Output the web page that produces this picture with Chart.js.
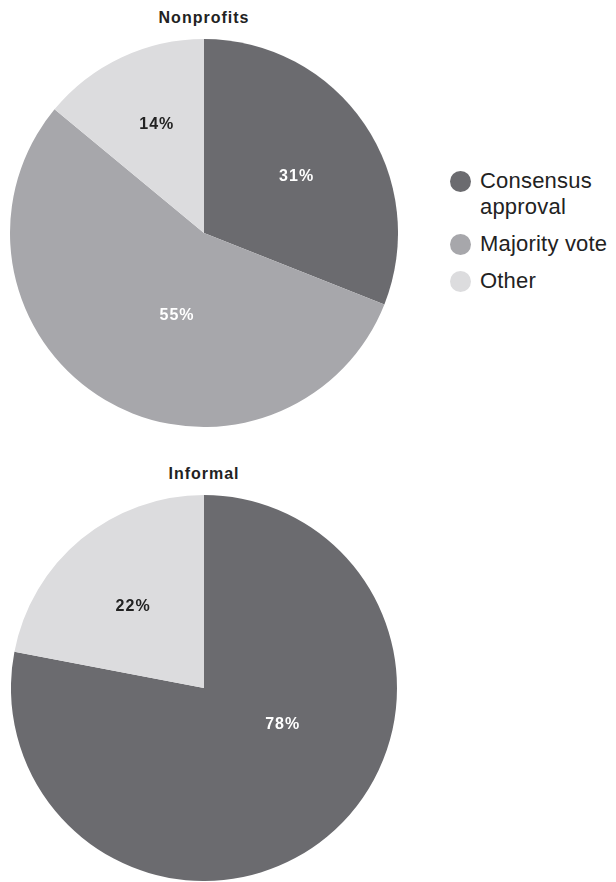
<!DOCTYPE html>
<html>
<head>
<meta charset="utf-8">
<script src="https://cdn.jsdelivr.net/npm/chart.js@4/dist/chart.umd.min.js"></script>
<style>
  body { margin: 0; background: #fff; font-family: "Liberation Sans", Arial, sans-serif; }
  #wrap { position: relative; width: 616px; height: 882px; }
  .title { position: absolute; width: 408px; text-align: center; font-weight: bold; font-size: 16px; letter-spacing: 1px; color: #222; }
  .pie { position: absolute; }
  #legend { position: absolute; left: 450px; top: 168px; font-size: 22px; letter-spacing: 0.2px; color: #222; line-height: 26px; }
  .item { position: relative; padding-left: 30px; margin-bottom: 11px; }
  .dot { position: absolute; left: 0px; top: 3px; width: 21px; height: 21px; border-radius: 50%; }
</style>
</head>
<body>
<div id="wrap">
  <div class="title" style="left:0; top:9px;">Nonprofits</div>
  <div class="pie" style="left:10px; top:39px; width:388px; height:388px;"><canvas id="chart1"></canvas></div>
  <div class="title" style="left:0; top:465px;">Informal</div>
  <div class="pie" style="left:11px; top:495px; width:386px; height:386px;"><canvas id="chart2"></canvas></div>
  <div id="legend"></div>
</div>
<script>
let categories = ['Consensus approval', 'Majority vote', 'Other'];
let legendLines = [['Consensus', 'approval'], ['Majority vote'], ['Other']];
let nonprofitsValues = [31, 55, 14];
let informalValues = [78, 0, 22];

const COLORS = ['#6b6b6f', '#a7a7ab', '#dcdcde'];
const LABEL_COLORS = ['#ffffff', '#ffffff', '#222222'];

// label placement: [angle from top in degrees, fraction of radius]; null = middle of slice
const pctLabels = {
  id: 'pctLabels',
  afterDatasetsDraw(chart, args, opts) {
    const ctx = chart.ctx;
    const meta = chart.getDatasetMeta(0);
    const data = chart.data.datasets[0].data;
    ctx.save();
    ctx.font = 'bold 16px "Liberation Sans", Arial, sans-serif';
    ctx.letterSpacing = '1px';
    ctx.textAlign = 'center';
    ctx.textBaseline = 'middle';
    meta.data.forEach((arc, i) => {
      if (!data[i]) return;
      const p = arc.getProps(['x', 'y', 'startAngle', 'endAngle', 'outerRadius']);
      let ang = (p.startAngle + p.endAngle) / 2;
      let frac = 0.57;
      const o = opts.place && opts.place[i];
      if (o) { ang = (o[0] - 90) * Math.PI / 180; frac = o[1]; }
      const x = p.x + Math.cos(ang) * p.outerRadius * frac;
      const y = p.y + Math.sin(ang) * p.outerRadius * frac;
      ctx.fillStyle = LABEL_COLORS[i];
      ctx.fillText(data[i] + '%', x, y);
    });
    ctx.restore();
  }
};

function makePie(id, values, place) {
  return new Chart(document.getElementById(id).getContext('2d'), {
    type: 'pie',
    data: {
      labels: categories,
      datasets: [{
        data: values,
        backgroundColor: COLORS,
        hoverBackgroundColor: COLORS,
        borderWidth: 0
      }]
    },
    options: {
      responsive: true,
      maintainAspectRatio: false,
      animation: false,
      layout: { padding: 0 },
      plugins: {
        legend: { display: false },
        tooltip: { enabled: false },
        pctLabels: { place: place }
      }
    },
    plugins: [pctLabels]
  });
}

makePie('chart1', nonprofitsValues, [[58.5, 0.56], [198, 0.45], [336.5, 0.61]]);
makePie('chart2', informalValues, [[115, 0.45], null, [319, 0.56]]);

// legend
let legend = document.getElementById('legend');
categories.forEach((c, i) => {
  let item = document.createElement('div');
  item.className = 'item';
  item.innerHTML = '<span class="dot" style="background:' + COLORS[i] + '"></span>' + legendLines[i].join('<br>');
  legend.appendChild(item);
});
</script>
</body>
</html>
